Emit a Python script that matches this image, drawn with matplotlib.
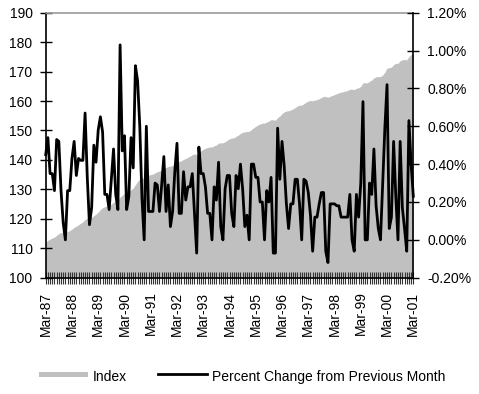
import matplotlib
matplotlib.use("Agg")
import matplotlib.pyplot as plt
import numpy as np
from matplotlib.patches import Rectangle
from matplotlib.lines import Line2D

plt.rcParams['font.family'] = ['Liberation Sans', 'DejaVu Sans']
plt.rcParams['font.size'] = 10

# Index values, monthly, Mar-87 .. Mar-01
index_values = [
    112.1, 112.7, 113.1, 113.5, 113.8, 114.4, 115.0, 115.3, 115.4, 115.4,
    115.7, 116.0, 116.5, 117.1, 117.5, 118.0, 118.5, 119.0, 119.8, 120.2, 120.3, 120.5,
    121.1, 121.6, 122.3, 123.1, 123.8, 124.1, 124.4, 124.6, 125.0, 125.6, 125.9, 126.1,
    127.4, 128.0, 128.7, 128.9, 129.2, 129.9, 130.4, 131.6, 132.7, 133.5, 133.8, 133.8,
    134.6, 134.8, 135.0, 135.2, 135.6, 136.0, 136.2, 136.6, 137.2, 137.4, 137.8, 137.9,
    138.1, 138.6, 139.3, 139.5, 139.7, 140.2, 140.5, 140.9, 141.3, 141.8, 142.0, 141.9,
    142.6, 143.1, 143.6, 144.0, 144.2, 144.4, 144.4, 144.8, 145.1, 145.7, 145.8, 145.8,
    146.2, 146.7, 147.2, 147.4, 147.5, 148.0, 148.4, 149.0, 149.4, 149.5, 149.7, 149.7,
    150.3, 150.9, 151.4, 151.9, 152.2, 152.5, 152.5, 152.9, 153.2, 153.7, 153.6, 153.5,
    154.4, 154.9, 155.7, 156.3, 156.6, 156.7, 157.0, 157.3, 157.8, 158.3, 158.6, 158.6,
    159.1, 159.6, 160.0, 160.2, 160.1, 160.3, 160.5, 160.8, 161.2, 161.6, 161.5, 161.3,
    161.6, 161.9, 162.2, 162.5, 162.8, 163.0, 163.2, 163.4, 163.6, 164.0, 164.0, 163.9,
    164.3, 164.5, 165.0, 166.2, 166.2, 166.2, 166.7, 167.1, 167.9, 168.2, 168.3, 168.3,
    168.8, 169.8, 171.2, 171.3, 171.5, 172.4, 172.8, 172.8, 173.7, 174.0, 174.1, 174.0,
    175.1, 175.8, 176.2,
]

# Percent change from previous month (%), Mar-87 .. Mar-01
pct_change = [
    0.45, 0.54, 0.35, 0.35, 0.26, 0.53, 0.52, 0.26, 0.09, 0.00,
    0.26, 0.26, 0.43, 0.52, 0.34, 0.43, 0.42, 0.42, 0.67, 0.33, 0.08, 0.17,
    0.50, 0.41, 0.58, 0.65, 0.57, 0.24, 0.24, 0.16, 0.32, 0.48, 0.24, 0.16,
    1.03, 0.47, 0.55, 0.16, 0.23, 0.54, 0.38, 0.92, 0.84, 0.60, 0.22, 0.00,
    0.60, 0.15, 0.15, 0.15, 0.30, 0.29, 0.15, 0.29, 0.44, 0.15, 0.29, 0.07,
    0.15, 0.36, 0.51, 0.14, 0.14, 0.36, 0.21, 0.28, 0.28, 0.35, 0.14, -0.07,
    0.49, 0.35, 0.35, 0.28, 0.14, 0.14, 0.00, 0.28, 0.21, 0.41, 0.07, 0.00,
    0.27, 0.34, 0.34, 0.14, 0.07, 0.34, 0.27, 0.40, 0.27, 0.07, 0.13, 0.00,
    0.40, 0.40, 0.33, 0.33, 0.20, 0.20, 0.00, 0.26, 0.20, 0.33, -0.07, -0.07,
    0.59, 0.32, 0.52, 0.39, 0.19, 0.06, 0.19, 0.19, 0.32, 0.32, 0.19, 0.00,
    0.32, 0.31, 0.25, 0.13, -0.06, 0.12, 0.12, 0.19, 0.25, 0.25, -0.06, -0.12,
    0.19, 0.19, 0.19, 0.18, 0.18, 0.12, 0.12, 0.12, 0.12, 0.24, 0.00, -0.06,
    0.24, 0.12, 0.30, 0.73, 0.00, 0.00, 0.30, 0.24, 0.48, 0.18, 0.06, 0.00,
    0.30, 0.59, 0.82, 0.06, 0.12, 0.52, 0.23, 0.00, 0.52, 0.17, 0.06, -0.06,
    0.63, 0.40, 0.23,
]

year_labels = ['Mar-87', 'Mar-88', 'Mar-89', 'Mar-90', 'Mar-91', 'Mar-92', 'Mar-93',
               'Mar-94', 'Mar-95', 'Mar-96', 'Mar-97', 'Mar-98', 'Mar-99', 'Mar-00',
               'Mar-01']

legend_labels = ['Index', 'Percent Change from Previous Month']

W, H = 479, 394
fig = plt.figure(figsize=(W / 100, H / 100), dpi=100)
L, R, T, B = 45.7, 413.3, 12.7, 277.7
ax = fig.add_axes([L / W, 1 - B / H, (R - L) / W, (B - T) / H])

x = np.arange(len(index_values))
ax.fill_between(x, 100, index_values, color='#c0c0c0', linewidth=0, step=None)
ax.set_xlim(0, len(index_values) - 1)
ax.set_ylim(100, 190)
ax.set_yticks(np.arange(100, 191, 10))

ax.set_xticks(np.arange(0, len(index_values), 12))
ax.set_xticklabels(year_labels, rotation=90)
ax.set_xticks(x, minor=True)

ax.tick_params(axis='y', direction='inout', length=8, width=1, pad=5.5, labelsize=10)
ax.tick_params(axis='x', which='both', direction='inout', length=8, width=0.8,
               pad=6, labelsize=10, color='#333333')

for s in ['left', 'bottom']:
    ax.spines[s].set_color('black')
    ax.spines[s].set_linewidth(1.2)
ax.spines['right'].set_visible(False)
ax.spines['top'].set_color('#999999')
ax.spines['top'].set_linewidth(1.2)

ax2 = ax.twinx()
ax2.plot(x, pct_change, color='black', linewidth=2.0, solid_joinstyle='round',
         clip_on=False)
ax2.set_ylim(-0.2, 1.2)
ax2.set_yticks(np.arange(-0.2, 1.21, 0.2))
ax2.set_yticklabels([f'{v:.2f}%' for v in np.arange(-0.2, 1.21, 0.2)])
ax2.tick_params(axis='y', direction='inout', length=8, width=1, pad=6, labelsize=10)
for s in ['left', 'bottom', 'top']:
    ax2.spines[s].set_visible(False)
ax2.spines['right'].set_color('black')
ax2.spines['right'].set_linewidth(1.2)

# Legend drawn in figure pixel coordinates
def fx(px):
    return px / W

def fy(py):
    return 1 - py / H

fig.add_artist(Rectangle((fx(39), fy(377)), fx(88) - fx(39), fy(372) - fy(377),
                         transform=fig.transFigure, facecolor='#c0c0c0',
                         edgecolor='none'))
fig.text(fx(93), fy(377), legend_labels[0], ha='left', va='center', fontsize=10)
fig.add_artist(Line2D([fx(158), fx(207)], [fy(373.5), fy(373.5)],
                      transform=fig.transFigure, color='black', linewidth=2.0))
fig.text(fx(212), fy(377), legend_labels[1], ha='left', va='center', fontsize=10)

fig.savefig('out.png', dpi=100)
